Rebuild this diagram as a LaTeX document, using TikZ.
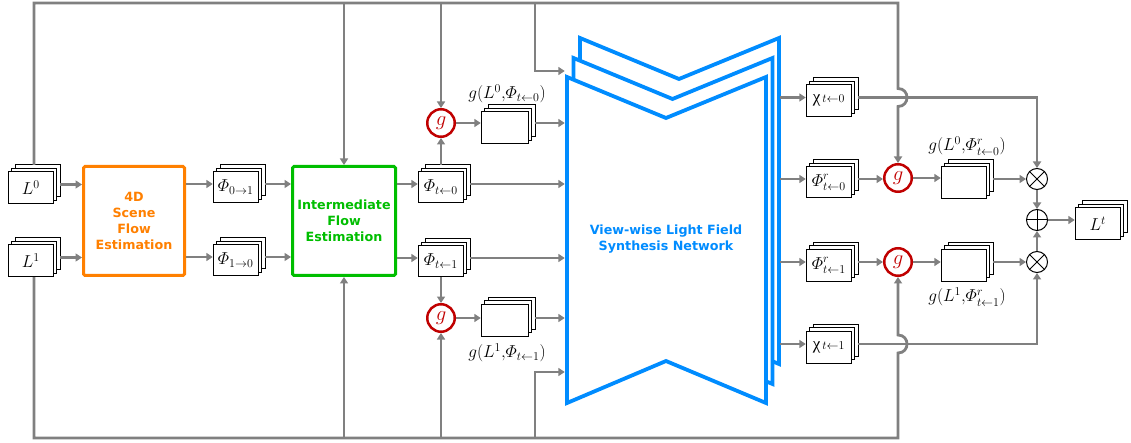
\documentclass[tikz,border=0pt]{standalone}
\usepackage{amsmath}
\usepackage{fontspec}
\newfontfamily\dvs{DejaVu Sans}
\newfontfamily\lser{Liberation Serif}
\usetikzlibrary{arrows.meta,calc}
\definecolor{lgray}{RGB}{128,128,128}
\definecolor{orng}{RGB}{255,128,0}
\definecolor{grn}{RGB}{0,190,0}
\definecolor{blu}{RGB}{0,140,255}
\definecolor{rd}{RGB}{192,0,0}
\tikzset{
 ln/.style={draw=lgray, line width=2.8pt},
 arr/.style={ln, -{Triangle[length=6.5pt,width=8pt]}},
 bx/.style={draw=black, line width=0.8pt, fill=white},
 mth/.style={font=\fontsize{16.5}{19}\selectfont, inner sep=0pt},
 sfb/.style={font=\fontsize{12.7}{16.2}\selectfont\dvs\bfseries, align=center},
 bigbox/.style={draw, line width=3pt, rounded corners=1.5pt, minimum width=101pt, minimum height=109pt, inner sep=1pt, sfb, fill=white},
 gc/.style={circle, draw=rd, line width=2.5pt, minimum size=27.5pt, inner sep=0pt, text=rd, font=\fontsize{22}{24}\selectfont},
 op/.style={circle, draw=black, line width=1pt, minimum size=21pt, inner sep=0pt},
 netl/.style={draw=blu, line width=3.8pt, fill=white, line join=miter},
}
\newcommand\stackbx[6]{%
 \node[inner sep=0pt, minimum width={#4+7}, minimum height={#5+7}] (#1) at (#2,#3) {};
 \draw[bx] ($(#1.north east)+(-#4,0)$) rectangle ++(#4,#5);
 \draw[bx] ($(#1.north east)+(-#4-3.5,3.5)$) rectangle ++(#4,#5);
 \node[bx, mth, anchor=south west, minimum width=#4, minimum height=#5] (#1f) at (#1.south west) {#6};
}
\newcommand\chilab[1]{{\lser\fontsize{17}{19}\selectfont χ}$\scriptstyle\,t\leftarrow#1$}
\begin{document}
\begin{tikzpicture}[x=1pt,y=-1pt]
\useasboundingbox (0,0) rectangle (1131,443);
\coordinate (top) at (0,3);
\coordinate (bot) at (0,438);
\coordinate (j0) at (535,71);
\coordinate (j1) at (535,372);
\coordinate (netr) at (780,0);

% network
\filldraw[netl] (580,38) -- (679,79) -- (779,38) -- (779,364) -- (679,322) -- (580,364) -- cycle;
\filldraw[netl] (573.5,58) -- (672.5,99) -- (772.5,58) -- (772.5,384) -- (672.5,342) -- (573.5,384) -- cycle;
\filldraw[netl] (567,77) -- (666,118) -- (766,77) -- (766,403) -- (666,361) -- (567,403) -- cycle;
\node[inner sep=0pt, minimum width=203, minimum height=326] (net) at (666.5,240) {};
\node[sfb, text=blu] (nett) at (666,239) {View-wise Light Field\\Synthesis Network};

% left column
\stackbx{L0}{34}{184.5}{45}{32}{$L^0$}
\stackbx{L1}{34}{257.5}{45}{32}{$L^1$}
\node[bigbox, draw=orng, text=orng] (d4) at (134,221) {4D\\Scene\\Flow\\Estimation};
\stackbx{F01}{239}{184}{45}{31}{$\varPhi_{0\rightarrow1}$}
\stackbx{F10}{239}{257}{45}{31}{$\varPhi_{1\rightarrow0}$}
\node[bigbox, draw=grn, text=grn, minimum width=103] (ife) at (344,221) {Intermediate\\Flow\\Estimation};
\stackbx{Ft0}{444}{184}{45}{31}{$\varPhi_{t\leftarrow0}$}
\stackbx{Ft1}{444}{258}{45}{31}{$\varPhi_{t\leftarrow1}$}
\node[gc] (g1) at (441,123) {$g$};
\node[gc] (g2) at (441,318) {$g$};
\stackbx{G0}{508}{124.5}{47}{32}{}
\stackbx{G1}{508}{317}{47}{32}{}
\node[mth] (lg0) at (507,94) {$g(L^0{,}\varPhi_{t\leftarrow0})$};
\node[mth] (lg1) at (507,353) {$g(L^1{,}\varPhi_{t\leftarrow1})$};

% right column
\stackbx{X0}{832}{97.5}{45}{32}{\chilab{0}}
\stackbx{Fr0}{832}{179}{45}{31}{$\varPhi^r_{t\leftarrow0}$}
\stackbx{Fr1}{832}{262}{45}{32}{$\varPhi^r_{t\leftarrow1}$}
\stackbx{X1}{832}{344}{45}{32}{\chilab{1}}
\node[gc] (g3) at (898,178) {$g$};
\node[gc] (g4) at (898,262) {$g$};
\stackbx{R0}{967}{179.5}{45}{32}{}
\stackbx{R1}{967}{262}{45}{32}{}
\node[mth] (lr0) at (967,146) {$g(L^0{,}\varPhi^r_{t\leftarrow0})$};
\node[mth] (lr1) at (967,297) {$g(L^1{,}\varPhi^r_{t\leftarrow1})$};
\node[op] (m1) at (1037,179) {};
\draw[line width=1pt] (m1.north west) -- (m1.south east) (m1.north east) -- (m1.south west);
\node[op] (pl) at (1037,220) {};
\draw[line width=1pt] (pl.north) -- (pl.south) (pl.west) -- (pl.east);
\node[op] (m2) at (1037,262) {};
\draw[line width=1pt] (m2.north west) -- (m2.south east) (m2.north east) -- (m2.south west);
\stackbx{Lt}{1101}{220.5}{45}{32}{$L^t$}

% buses
\draw[arr] (L0.north) |- (g3 |- top) -- ($(g3 |- X0)+(0,-9)$) .. controls +(12,0) and +(12,0) .. ($(g3 |- X0)+(0,9)$) -- (g3.north);
\draw[arr] (ife.north |- top) -- (ife.north);
\draw[arr] (g1 |- top) -- (g1.north);
\draw[arr] (j0 |- top) -- (j0) -- (net.west |- j0);
\draw[arr] (L1.south) |- (g4 |- bot) -- ($(g4 |- X1)+(0,9)$) .. controls +(12,0) and +(12,0) .. ($(g4 |- X1)+(0,-9)$) -- (g4.south);
\draw[arr] (ife.south |- bot) -- (ife.south);
\draw[arr] (g2 |- bot) -- (g2.south);
\draw[arr] (j1 |- bot) -- (j1) -- (net.west |- j1);

% left connectors
\draw[arr] (L0.east) -- (L0.east -| d4.west);
\draw[arr] (L1.east) -- (L1.east -| d4.west);
\draw[arr] (d4.east |- F01) -- (F01.west);
\draw[arr] (d4.east |- F10) -- (F10.west);
\draw[arr] (F01.east) -- (F01.east -| ife.west);
\draw[arr] (F10.east) -- (F10.east -| ife.west);
\draw[arr] (ife.east |- Ft0) -- (Ft0.west);
\draw[arr] (ife.east |- Ft1) -- (Ft1.west);
\draw[arr] (g1 |- Ft0.north) -- (g1.south);
\draw[arr] (g2 |- Ft1.south) -- (g2.north);
\draw[arr] (g1.east) -- (g1.east -| G0.west);
\draw[arr] (g2.east) -- (g2.east -| G1.west);
\draw[arr] (G0.east |- g1) -- (net.west |- g1);
\draw[arr] (G1.east |- g2) -- (net.west |- g2);
\draw[arr] (Ft0.east) -- (net.west |- Ft0);
\draw[arr] (Ft1.east) -- (net.west |- Ft1);

% right connectors
\draw[arr] (netr |- X0) -- (X0.west);
\draw[arr] (netr |- Fr0) -- (Fr0.west);
\draw[arr] (netr |- Fr1) -- (Fr1.west);
\draw[arr] (netr |- X1) -- (X1.west);
\draw[arr] (Fr0.east) -- (Fr0.east -| g3.west);
\draw[arr] (Fr1.east) -- (Fr1.east -| g4.west);
\draw[arr] (g3.east) -- (g3.east -| R0.west);
\draw[arr] (g4.east) -- (g4.east -| R1.west);
\draw[arr] (R0.east |- m1) -- (m1.west);
\draw[arr] (R1.east |- m2) -- (m2.west);
\draw[arr] (X0.east) -| (m1.north);
\draw[arr] (X1.east) -| (m2.south);
\draw[arr] (m1.south) -- (pl.north);
\draw[arr] (m2.north) -- (pl.south);
\draw[arr] (pl.east) -- (pl.east -| Lt.west);
\end{tikzpicture}
\end{document}
